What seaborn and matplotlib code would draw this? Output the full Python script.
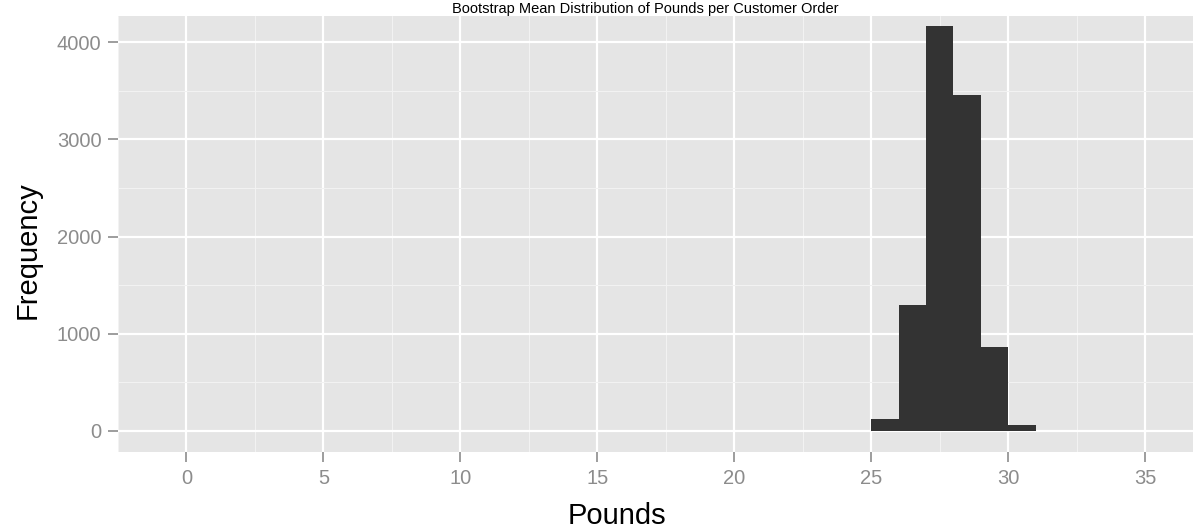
import matplotlib
matplotlib.use("Agg")
import matplotlib.pyplot as plt
from matplotlib import font_manager
import seaborn as sns
import numpy as np
import pandas as pd

# Data (bin width 1 pound)
bin_left = [25, 26, 27, 28, 29, 30]
counts = [125, 1300, 4165, 3455, 860, 62]
x_ticks = [0, 5, 10, 15, 20, 25, 30, 35]
y_ticks = [0, 1000, 2000, 3000, 4000]

title = "Bootstrap Mean Distribution of Pounds per Customer Order"
xlabel = "Pounds"
ylabel = "Frequency"

sns.set_theme(style="darkgrid")
plt.rcParams['font.family'] = ['Liberation Sans', 'DejaVu Sans']

names = {f.name for f in font_manager.fontManager.ttflist}
tick_family = 'Liberation Sans Narrow' if 'Liberation Sans Narrow' in names else 'Liberation Sans'
tick_size = 17 if tick_family == 'Liberation Sans Narrow' else 14.5

df = pd.DataFrame({"pounds": [b + 0.5 for b in bin_left], "n": counts})

W, H = 1195, 531
left_px, right_px, top_px, bot_px = 118, 1193, 16, 452
fig = plt.figure(figsize=(W / 100, H / 100), dpi=100)
ax = fig.add_axes([left_px / W, 1 - bot_px / H, (right_px - left_px) / W, (bot_px - top_px) / H])
ax.set_facecolor("#E5E5E5")
sns.histplot(data=df, x="pounds", weights="n", bins=list(range(25, 32)),
             color="#333333", alpha=1, edgecolor="none", linewidth=0, ax=ax)

ax.set_xlim(-1.75, 36.75)
y0 = 431
per1000 = (431 - 42) / 4.0
ax.set_ylim(-(bot_px - y0) / per1000 * 1000, (y0 - top_px) / per1000 * 1000)
ax.set_xticks(x_ticks)
ax.set_yticks(y_ticks)
ax.set_xticks(np.arange(-2.5, 37.5, 5), minor=True)
ax.set_yticks([500, 1500, 2500, 3500], minor=True)
ax.grid(which="major", color="white", linewidth=1.6)
ax.grid(which="minor", color="#F2F2F2", linewidth=0.8)
ax.set_axisbelow(True)
for s in ax.spines.values():
    s.set_visible(False)
ax.tick_params(axis="both", which="major", length=7, width=1.2, color="#8C8C8C",
               labelcolor="#8C8C8C", labelsize=tick_size, direction="out",
               bottom=True, left=True, pad=5)
ax.tick_params(which="minor", length=0)
for lab in ax.get_xticklabels() + ax.get_yticklabels():
    lab.set_family([tick_family, 'DejaVu Sans'])

ax.set_xlabel("")
ax.set_ylabel("")
fig.text(617 / W, 1 - 516 / H, xlabel, ha="center", va="center", fontsize=21, color="black")
fig.text(28 / W, 1 - 250 / H, ylabel, ha="center", va="center", rotation=90,
         fontsize=21, color="black")

fig.text(645 / W, 1 - 2 / H, title, ha="center", va="top", fontsize=10.5, color="black")

fig.savefig("out.png", dpi=100)
